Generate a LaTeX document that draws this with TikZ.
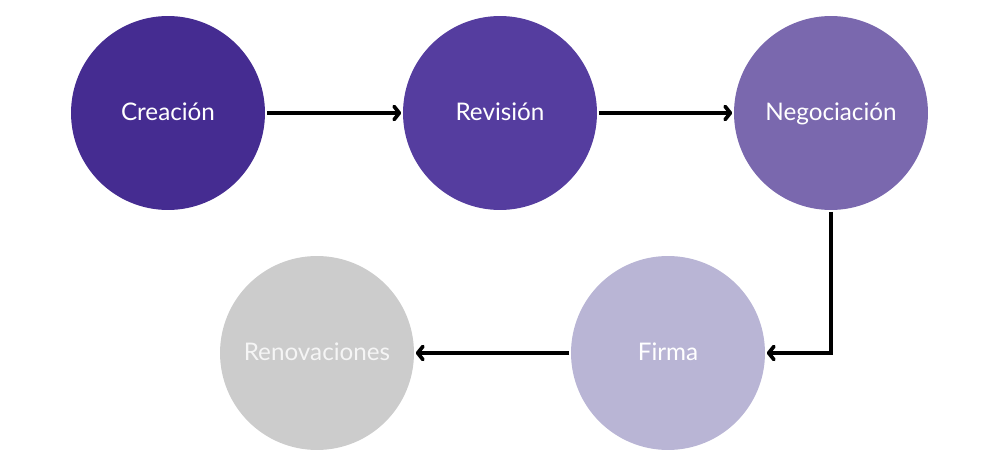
\documentclass[tikz,border=0pt]{standalone}
\usepackage{fontspec}
\setmainfont{Lato}
\usepackage{tikz}
\usetikzlibrary{arrows.meta}
\definecolor{paso1}{HTML}{452C91}
\definecolor{paso2}{HTML}{553D9F}
\definecolor{paso3}{HTML}{7A68AE}
\definecolor{paso4}{HTML}{B9B5D5}
\definecolor{paso5}{HTML}{CCCCCC}
\def\radio{3.88cm}
\begin{document}
\begin{tikzpicture}[x=0.02cm, y=-0.02cm, line width=2.1pt,
    -{Straight Barb[length=3pt,width=7.5pt,round]}]
    \tikzstyle{etapa}=[circle,minimum size=\radio,inner sep=0pt,text=white,
                       text height=0.84em,text depth=0pt,
                       font=\fontsize{13.8}{16}\selectfont]
    \useasboundingbox (0,0) rectangle (995,452);

    % Draw the stages
    \node[etapa,fill=paso1] (creacion)    at (168,113) {Creación};
    \node[etapa,fill=paso2] (revision)    at (500,113) {Revisión};
    \node[etapa,fill=paso3] (negociacion) at (831,113) {Negociación};
    \node[etapa,fill=paso4] (firma)       at (668,353) {Firma};
    \node[etapa,fill=paso5,text=white!96!black] (renovaciones) at (317,353) {Renovaciones};

    % Connect the stages
    \draw (creacion) -- (revision);
    \draw (revision) -- (negociacion);
    \draw (negociacion.south) |- (firma.east);
    \draw (firma) -- (renovaciones);
\end{tikzpicture}
\end{document}
